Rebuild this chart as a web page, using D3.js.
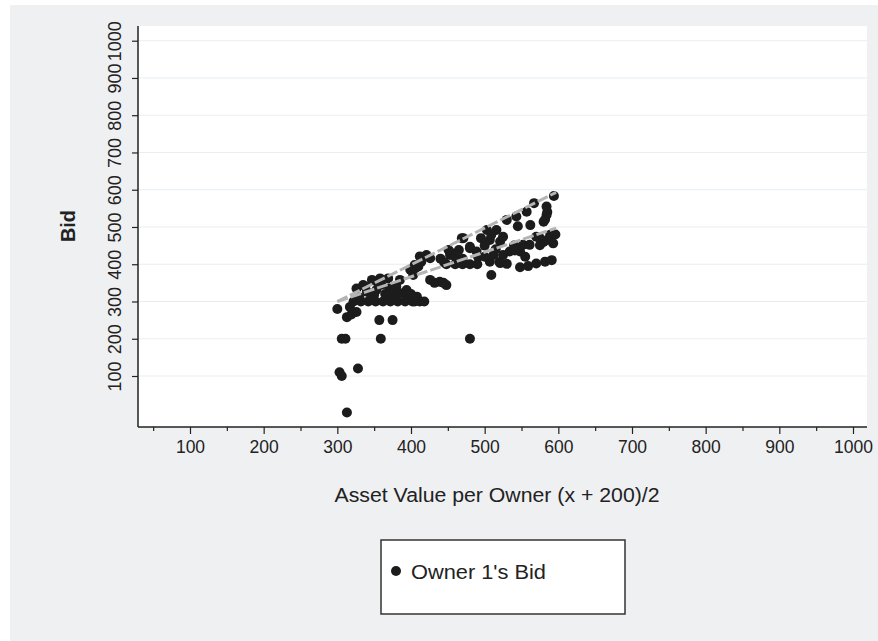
<!DOCTYPE html>
<html>
<head>
<meta charset="utf-8">
<script src="https://cdn.jsdelivr.net/npm/d3@7"></script>
<style>
  body { margin: 0; background: #fff; }
  text { font-family: "Liberation Sans", Arial, sans-serif; fill: #222; }
</style>
</head>
<body>
<script>
// asset value per owner (x) and owner 1's bid (y)
var assetValue = [
  300, 303, 306, 313, 328, 306, 311, 359, 480, 357, 375, 313, 319, 326,
  322, 332, 342, 352, 362, 372, 382, 392, 402, 412, 418,
  317, 330, 345, 326, 335, 347, 358, 369, 340, 353, 371, 380, 394, 408, 394, 385,
  360, 365, 375, 385, 350, 400, 405, 338, 355,
  399, 405, 410, 414, 421, 426, 403, 426, 439, 448, 432, 444, 406, 412,
  453, 453, 465, 480, 471, 448, 460, 470, 480, 490, 489, 491, 440, 445, 460, 470, 451, 469, 480,
  503, 516, 507, 521, 525, 509, 507, 521, 530, 509, 525, 500, 515, 500, 512, 495,
  530, 543, 557, 545, 562, 534, 548, 552, 561, 570, 589, 593, 580, 575, 585, 596,
  548, 559, 570, 582, 591, 567, 584, 584, 580, 594, 582, 585, 541, 540, 555, 520, 575
]
var bid = [
  280, 110, 100, 2, 120, 200, 200, 200, 200, 250, 250, 258, 265, 272,
  300, 300, 300, 300, 300, 300, 300, 300, 300, 300, 300,
  285, 310, 305, 335, 344, 358, 362, 362, 326, 331, 335, 340, 331, 313, 309, 358,
  345, 320, 318, 322, 318, 320, 300, 340, 350,
  385, 398, 394, 407, 425, 416, 371, 358, 353, 344, 350, 350, 390, 421,
  425, 433, 438, 443, 470, 400, 400, 400, 400, 400, 434, 420, 415, 405, 420, 415, 438, 470, 447,
  492, 492, 465, 461, 474, 479, 407, 403, 401, 371, 425, 450, 440, 420, 425, 470,
  519, 528, 541, 502, 505, 434, 434, 452, 452, 474, 479, 456, 460, 470, 465, 480,
  392, 395, 402, 407, 411, 564, 555, 532, 514, 583, 520, 540, 437, 450, 420, 406, 451
]
// the two dashed reference lines
var lineX = [300, 597]
var upperY = [300, 593]
var lowerY = [300, 497]
var tickVals = [100, 200, 300, 400, 500, 600, 700, 800, 900, 1000]
var minorVals = [50, 150, 250, 350, 450, 550, 650, 750, 850, 950]

var w = 878, h = 641
var plotL = 138, plotR = 867, plotT = 26, plotB = 427
var fontFam = '"Liberation Sans", Arial, sans-serif'

var svg = d3.select('body').append('svg')
  .attr('width', w)
  .attr('height', h)

svg.append('rect') // grey outer panel
  .attr('x', 10).attr('y', 5)
  .attr('width', w - 10).attr('height', h - 5)
  .attr('fill', '#eff0f2')

svg.append('rect') // white plot region
  .attr('x', plotL).attr('y', plotT)
  .attr('width', plotR - plotL).attr('height', plotB - plotT)
  .attr('fill', '#fff')

var x = d3.scaleLinear().domain([100, 1000]).range([190, 853])
var y = d3.scaleLinear().domain([100, 1000]).range([376, 40.7])

// grid lines
svg.selectAll('line.grid')
  .data(tickVals)
  .enter()
  .append('line')
  .attr('x1', plotL).attr('x2', plotR)
  .attr('y1', function(d){ return y(d) })
  .attr('y2', function(d){ return y(d) })
  .attr('stroke', '#e7eef2')
  .attr('stroke-width', 1)

// points
svg.selectAll('circle.pt')
  .data(assetValue)
  .enter()
  .append('circle')
  .attr('cx', function(d){ return x(d) })
  .attr('cy', function(d, i){ return y(bid[i]) })
  .attr('r', 5)
  .attr('fill', '#1c1c1c')

// dashed lines drawn on top of the dots
var line = d3.line()
  .x(function(d){ return x(d[0]) })
  .y(function(d){ return y(d[1]) })
;[upperY, lowerY].forEach(function(ys){
  svg.append('path')
    .attr('d', line(lineX.map(function(v, i){ return [v, ys[i]] })))
    .attr('fill', 'none')
    .attr('stroke', '#b4b4b4')
    .attr('stroke-width', 3)
    .attr('stroke-dasharray', '11,3')
})

// x axis
var xg = svg.append('g').attr('transform', 'translate(0,' + plotB + ')')
xg.call(d3.axisBottom(x).tickValues(tickVals).tickSize(7).tickPadding(7).tickFormat(d3.format('d')))
xg.select('.domain').remove()
var xm = svg.append('g').attr('transform', 'translate(0,' + plotB + ')')
xm.call(d3.axisBottom(x).tickValues(minorVals).tickSize(4).tickFormat(''))
xm.select('.domain').remove()
svg.selectAll('.tick line').attr('stroke', '#222').attr('stroke-width', 1.2)
xg.selectAll('text')
  .style('font-size', '17.5px')
  .style('font-family', fontFam)
  .attr('fill', '#222')

// y axis
var yg = svg.append('g').attr('transform', 'translate(' + plotL + ',0)')
yg.call(d3.axisLeft(y).tickValues(tickVals).tickSize(6).tickFormat(d3.format('d')))
yg.select('.domain').remove()
yg.selectAll('.tick line').attr('stroke', '#222').attr('stroke-width', 1.2)
yg.selectAll('text')
  .attr('x', null).attr('dy', null)
  .attr('transform', 'translate(-23,0) rotate(-90)')
  .attr('text-anchor', 'middle')
  .attr('dominant-baseline', 'central')
  .style('font-size', '18px')
  .style('font-family', fontFam)
  .attr('fill', '#222')

// axis lines
svg.append('line')
  .attr('x1', plotL).attr('x2', plotR).attr('y1', plotB).attr('y2', plotB)
  .attr('stroke', '#222').attr('stroke-width', 1.5)
svg.append('line')
  .attr('x1', plotL).attr('x2', plotL).attr('y1', plotT).attr('y2', plotB)
  .attr('stroke', '#222').attr('stroke-width', 1.5)

// titles
svg.append('text')
  .text('Asset Value per Owner (x + 200)/2')
  .attr('x', 497).attr('y', 502)
  .attr('text-anchor', 'middle')
  .attr('textLength', 325)
  .attr('lengthAdjust', 'spacingAndGlyphs')
  .style('font-size', '19.5px')
svg.append('text')
  .text('Bid')
  .attr('transform', 'translate(68,226) rotate(-90)')
  .attr('text-anchor', 'middle')
  .attr('dominant-baseline', 'central')
  .attr('textLength', 32)
  .attr('lengthAdjust', 'spacingAndGlyphs')
  .style('font-size', '20px')
  .style('font-weight', 'bold')

// legend
svg.append('rect')
  .attr('x', 381).attr('y', 540)
  .attr('width', 244).attr('height', 74)
  .attr('fill', '#fff')
  .attr('stroke', '#333')
  .attr('stroke-width', 1.5)
svg.append('circle')
  .attr('cx', 396).attr('cy', 571).attr('r', 5)
  .attr('fill', '#1c1c1c')
svg.append('text')
  .text("Owner 1's Bid")
  .attr('x', 411).attr('y', 572)
  .attr('dominant-baseline', 'central')
  .attr('textLength', 135)
  .attr('lengthAdjust', 'spacingAndGlyphs')
  .style('font-size', '20px')
</script>
</body>
</html>
